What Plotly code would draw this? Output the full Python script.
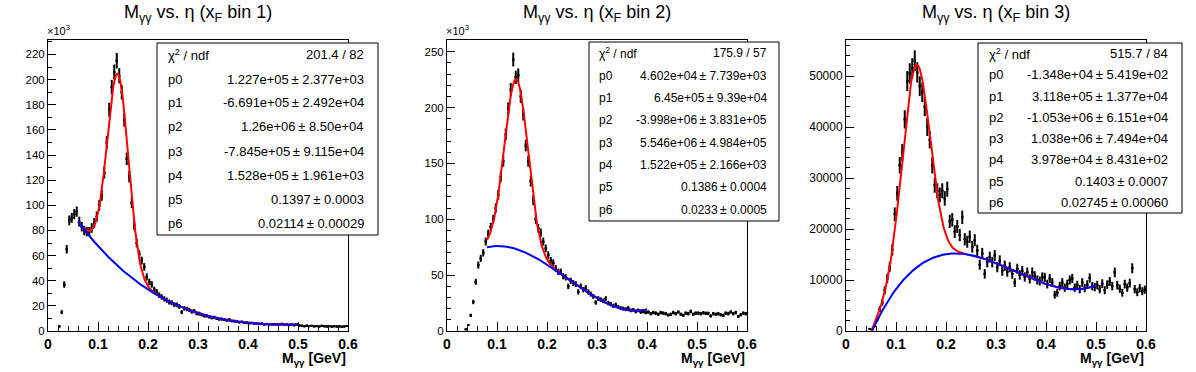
import numpy as np
import plotly.graph_objects as go

# ---------------- data ----------------
n_bins = 120
x_lo, x_hi = 0.0, 0.6

# bin contents (x_F bin 1 and 2 in units of 10^3 counts, bin 3 in counts)
counts_bin1 = [
    None, None, None, None, 3.7, 15, 37, 65, 88, 90,
    93, 95, 87, 83, 80, 79, 79, 82, 86, 91,
    100, 108, 126, 150, 176, 194, 206, 215, 203, 190,
    168, 137, 123, 102, 84, 70, 61, 56, 51, 43,
    39, 37, 33, 31, 28.5, 27, 25.5, 24.5, 23.0, 22.5,
    21.0, 20.8, 19.5, 15.0, 18.0, 17.5, 16.8, 15.5, 15.8, 14.0,
    13.8, 13.0, 12.2, 12.0, 11.2, 10.6, 10.8, 10.0, 9.4, 9.5,
    9.1, 8.6, 8.9, 8.0, 7.9, 7.6, 7.0, 7.3, 6.7, 6.5,
    6.3, 6.4, 5.9, 6.0, 5.6, 5.8, 5.3, 5.5, 5.2, 5.4,
    5.0, 5.3, 4.9, 5.6, 4.8, 5.1, 4.7, 5.0, 4.6, 5.2,
    4.4, 4.2, 3.8, 4.2, 3.9, 4.1, 3.7, 3.9, 3.6, 4.1,
    3.8, 3.6, 3.9, 3.5, 3.8, 3.6, 3.7, 3.4, 3.6, 4.0,
]
errors_bin1 = [
    0, 0, 0, 0, 0.8, 1.6, 2.6, 3.4, 3.9, 4.0,
    4.1, 4.1, 3.9, 3.8, 3.8, 3.7, 3.7, 3.8, 3.9, 4.0,
    4.2, 4.4, 4.7, 5.1, 5.6, 5.8, 6.0, 6.2, 6.0, 5.8,
    5.4, 4.9, 4.7, 4.2, 3.8, 3.5, 3.3, 3.1, 3.0, 2.8,
    2.6, 2.6, 2.4, 2.3, 2.2, 2.2, 2.1, 2.1, 2.0, 2.0,
    1.9, 1.9, 1.9, 1.6, 1.8, 1.8, 1.7, 1.7, 1.7, 1.6,
    1.6, 1.5, 1.5, 1.5, 1.4, 1.4, 1.4, 1.3, 1.3, 1.3,
    1.3, 1.2, 1.3, 1.2, 1.2, 1.2, 1.1, 1.1, 1.1, 1.1,
    1.1, 1.1, 1.0, 1.0, 1.0, 1.0, 1.0, 1.0, 1.0, 1.0,
    0.9, 1.0, 0.9, 1.0, 0.9, 0.9, 0.9, 0.9, 0.9, 0.9,
    0.9, 0.9, 0.8, 0.9, 0.8, 0.8, 0.8, 0.8, 0.8, 0.8,
    0.8, 0.8, 0.8, 0.8, 0.8, 0.8, 0.8, 0.8, 0.8, 0.8,
]

counts_bin2 = [
    None, None, None, None, None, None, None, 1.5, 5.4, 14,
    26, 44, 59, 65, 70, 80, 87, 93, 100, 110,
    122, 138, 152, 176, 199, 216, 243, 227, 229, 210,
    194, 166, 152, 134, 117, 100, 92, 88, 80, 74,
    68, 63, 61, 56, 53, 53, 49, 48, 40, 45,
    43, 42, 35, 40, 37, 38.5, 35, 33, 31, 25.5,
    29, 28, 27, 29, 25, 24, 22.5, 23.5, 21.5, 20.5,
    20, 19.5, 20.5, 18.5, 19, 17.5, 18.5, 17, 17.5, 16.5,
    17, 15.5, 16.5, 16, 15, 16.5, 16, 15.5, 14.3, 15,
    16.5, 15.5, 17, 15, 14, 16, 15.5, 17.5, 15, 16,
    16, 15.5, 16.3, 15.8, 15.8, 13.5, 15.5, 15, 15.5, 14.5,
    14, 16, 15.5, 17, 15.5, 16.5, 13, 14.5, 16, 15.5,
]
errors_bin2 = [
    0, 0, 0, 0, 0, 0, 0, 0.5, 0.9, 1.5,
    2.0, 2.7, 3.1, 3.2, 3.3, 3.6, 3.7, 3.9, 4.0, 4.2,
    4.4, 4.7, 4.9, 5.3, 5.6, 5.9, 6.2, 6.0, 6.1, 5.8,
    5.6, 5.2, 4.9, 4.6, 4.3, 4.0, 3.8, 3.8, 3.6, 3.4,
    3.3, 3.2, 3.1, 3.0, 2.9, 2.9, 2.8, 2.8, 2.5, 2.7,
    2.6, 2.6, 2.4, 2.5, 2.4, 2.5, 2.4, 2.3, 2.2, 2.0,
    2.2, 2.1, 2.1, 2.2, 2.0, 2.0, 1.9, 1.9, 1.9, 1.8,
    1.8, 1.8, 1.8, 1.7, 1.7, 1.7, 1.7, 1.6, 1.7, 1.6,
    1.6, 1.6, 1.6, 1.6, 1.5, 1.6, 1.6, 1.6, 1.5, 1.5,
    1.6, 1.6, 1.6, 1.5, 1.5, 1.6, 1.6, 1.7, 1.5, 1.6,
    1.6, 1.6, 1.6, 1.6, 1.6, 1.5, 1.6, 1.5, 1.6, 1.5,
    1.5, 1.6, 1.6, 1.6, 1.6, 1.6, 1.4, 1.5, 1.6, 1.6,
]

counts_bin3 = [
    None, None, None, None, None, None, None, None, None, 400,
    300, 1000, 2300, 4300, 5600, 8000, 10300, 12600, 15900, 22900,
    27000, 32500, 35000, 41500, 49000, 50500, 51500, 53000, 50700, 48000,
    46800, 44000, 40000, 37500, 32500, 28600, 27500, 26700, 27500, 26000,
    27800, 21500, 21800, 19500, 20500, 18800, 22300, 18000, 17500, 18500,
    16500, 17800, 15800, 13000, 15200, 11200, 13500, 14500, 13500, 14800,
    12500, 13800, 11800, 12800, 11600, 12500, 11200, 9500, 12200, 11000,
    11800, 10600, 11500, 10200, 11500, 10800, 10000, 9800, 10600, 10500,
    9200, 10300, 9500, 7100, 7500, 8800, 9500, 8500, 9200, 10000,
    10300, 8500, 9000, 8200, 9500, 8400, 9100, 10400, 8800, 8600,
    9000, 8200, 9300, 8000, 9100, 9700, 8800, 11500, 9000, 8300,
    7500, 9200, 8500, 9400, 12300, 8200, 7600, 8400, 7800, 8100,
]
errors_bin3 = [
    0, 0, 0, 0, 0, 0, 0, 0, 0, 180,
    150, 280, 420, 580, 660, 790, 900, 1000, 1100, 1330,
    1450, 1600, 1660, 1800, 1960, 2000, 2000, 2040, 2000, 1940,
    1900, 1860, 1770, 1710, 1600, 1500, 1470, 1450, 1470, 1430,
    1480, 1300, 1310, 1240, 1270, 1210, 1320, 1190, 1170, 1200,
    1140, 1180, 1110, 1000, 1090, 940, 1030, 1070, 1030, 1080,
    990, 1040, 960, 1000, 950, 990, 940, 860, 980, 930,
    960, 910, 950, 890, 950, 920, 890, 880, 910, 910,
    850, 900, 860, 750, 770, 830, 860, 820, 850, 890,
    900, 820, 840, 800, 860, 810, 840, 900, 830, 820,
    840, 800, 850, 790, 840, 870, 830, 950, 840, 810,
    770, 850, 820, 860, 980, 800, 770, 810, 780, 800,
]

# fit results: pol3 background (p0..p3) + gaussian (p4 amplitude, p5 mean, p6 sigma)
fit_params_bin1 = [1.227e+05, -6.691e+05, 1.26e+06, -7.845e+05, 1.528e+05, 0.1397, 0.02114]
fit_params_bin2 = [4.602e+04, 6.45e+05, -3.998e+06, 5.546e+06, 1.522e+05, 0.1386, 0.0233]
fit_params_bin3 = [-1.348e+04, 3.118e+05, -1.053e+06, 1.038e+06, 3.978e+04, 0.1403, 0.02745]
total_fit_range = [(0.07, 0.5), (0.08, 0.4), (0.05, 0.5)]
background_fit_range = [(0.06, 0.5), (0.08, 0.4), (0.053, 0.5)]
y_units = [1e3, 1e3, 1.0]

stats_bin1 = [("χ<sup>2</sup> / ndf", "201.4 / 82"),
              ("p0", "1.227e+05\u2009± 2.377e+03"),
              ("p1", "-6.691e+05\u2009± 2.492e+04"),
              ("p2", "1.26e+06\u2009± 8.50e+04"),
              ("p3", "-7.845e+05\u2009± 9.115e+04"),
              ("p4", "1.528e+05\u2009± 1.961e+03"),
              ("p5", "0.1397\u2009± 0.0003"),
              ("p6", "0.02114\u2009± 0.00029")]
stats_bin2 = [("χ<sup>2</sup> / ndf", "175.9 / 57"),
              ("p0", "4.602e+04\u2009± 7.739e+03"),
              ("p1", "6.45e+05\u2009± 9.39e+04"),
              ("p2", "-3.998e+06\u2009± 3.831e+05"),
              ("p3", "5.546e+06\u2009± 4.984e+05"),
              ("p4", "1.522e+05\u2009± 2.166e+03"),
              ("p5", "0.1386\u2009± 0.0004"),
              ("p6", "0.0233\u2009± 0.0005")]
stats_bin3 = [("χ<sup>2</sup> / ndf", "515.7 / 84"),
              ("p0", "-1.348e+04\u2009± 5.419e+02"),
              ("p1", "3.118e+05\u2009± 1.377e+04"),
              ("p2", "-1.053e+06\u2009± 6.151e+04"),
              ("p3", "1.038e+06\u2009± 7.494e+04"),
              ("p4", "3.978e+04\u2009± 8.431e+02"),
              ("p5", "0.1403\u2009± 0.0007"),
              ("p6", "0.02745\u2009± 0.00060")]

titles = ["M<sub>γγ</sub> vs. η (x<sub>F</sub> bin 1)",
          "M<sub>γγ</sub> vs. η (x<sub>F</sub> bin 2)",
          "M<sub>γγ</sub> vs. η (x<sub>F</sub> bin 3)"]

# ---------------- layout geometry (pixels) ----------------
W, H = 1196, 372
FONT = "Liberation Sans, Arial, sans-serif"
frames = [(48, 348), (447, 747), (846, 1146)]
frame_top, frame_bot = 40, 331
y_max = [231.5, 260.5, 57060]
y_dtick = [20, 50, 10000]
y_minor = [10, 10, 2000]
y_tick_size = [11.5, 11.5, 12]
stat_boxes = [(157, 43, 378, 235, 13), (589, 42, 779, 221, 12), (978, 43, 1182, 213, 13)]
stat_inset = [(9, 12), (8, 10), (9, 12)]


def fx(px):
    return px / W


def fy(py):
    return 1 - py / H


edges = np.linspace(x_lo, x_hi, n_bins + 1)
centers = 0.5 * (edges[:-1] + edges[1:])
half_width = 0.5 * (edges[1] - edges[0])


def fit_total(x, p):
    return p[0] + p[1] * x + p[2] * x**2 + p[3] * x**3 + p[4] * np.exp(-0.5 * ((x - p[5]) / p[6])**2)


def fit_background(x, p):
    return p[0] + p[1] * x + p[2] * x**2 + p[3] * x**3


fig = go.Figure()
all_counts = [counts_bin1, counts_bin2, counts_bin3]
all_errors = [errors_bin1, errors_bin2, errors_bin3]
all_params = [fit_params_bin1, fit_params_bin2, fit_params_bin3]
all_stats = [stats_bin1, stats_bin2, stats_bin3]

annotations = []
shapes = []
layout_axes = {}

for k in range(3):
    xa = "x" if k == 0 else f"x{k+1}"
    ya = "y" if k == 0 else f"y{k+1}"
    # data histogram with error bars
    fig.add_trace(go.Scatter(
        x=centers, y=all_counts[k], xaxis=xa, yaxis=ya, mode="markers",
        marker=dict(size=2, color="black", symbol="square"),
        error_y=dict(type="data", array=all_errors[k], visible=True, color="black", thickness=2, width=0),
        error_x=dict(type="constant", value=half_width, visible=True, color="black", thickness=2, width=0),
        showlegend=False, hoverinfo="skip"))
    p = all_params[k]
    xr = np.linspace(total_fit_range[k][0], total_fit_range[k][1], 300)
    fig.add_trace(go.Scatter(x=xr, y=fit_total(xr, p) / y_units[k], xaxis=xa, yaxis=ya, mode="lines",
                             line=dict(color="#ff0000", width=2), showlegend=False, hoverinfo="skip"))
    xb = np.linspace(background_fit_range[k][0], background_fit_range[k][1], 300)
    fig.add_trace(go.Scatter(x=xb, y=fit_background(xb, p) / y_units[k], xaxis=xa, yaxis=ya, mode="lines",
                             line=dict(color="#0000ff", width=2), showlegend=False, hoverinfo="skip"))

    x0, x1 = frames[k]
    axis_common = dict(showline=True, linecolor="black", linewidth=1, mirror=True,
                       ticks="inside", tickcolor="black", tickwidth=1, automargin=False,
                       showgrid=False, zeroline=False)
    layout_axes["xaxis" if k == 0 else f"xaxis{k+1}"] = dict(
        domain=[fx(x0), fx(x1)], range=[x_lo, x_hi], anchor=ya,
        tick0=0, dtick=0.1, ticklen=9,
        minor=dict(ticks="inside", ticklen=5, dtick=0.02, tick0=0, tickcolor="black", tickwidth=1),
        tickfont=dict(family=FONT, size=14, color="black", weight="bold"),
        **axis_common)
    yfmt = {} if k < 2 else dict(tickformat="d")
    layout_axes["yaxis" if k == 0 else f"yaxis{k+1}"] = dict(
        domain=[fy(frame_bot), fy(frame_top)], range=[0, y_max[k]], anchor=xa,
        tick0=0, dtick=y_dtick[k], ticklen=8,
        minor=dict(ticks="inside", ticklen=4, dtick=y_minor[k], tick0=0, tickcolor="black", tickwidth=1),
        tickfont=dict(family=FONT, size=y_tick_size[k], color="black"),
        **yfmt, **axis_common)

    # title
    annotations.append(dict(x=fx((x0 + x1) / 2), y=fy(14), xref="paper", yref="paper",
                            text=titles[k], showarrow=False, xanchor="center", yanchor="middle",
                            font=dict(family=FONT, size=18, color="black")))
    # x axis title
    annotations.append(dict(x=fx(x1), y=fy(359), xref="paper", yref="paper",
                            text="<b>M<sub>γγ</sub> [GeV]</b>", showarrow=False, xanchor="right", yanchor="middle",
                            font=dict(family=FONT, size=14, color="black")))
    if k < 2:
        annotations.append(dict(x=fx(x0 - 3), y=fy(39), xref="paper", yref="paper",
                                text="×10<sup>3</sup>", showarrow=False, xanchor="left", yanchor="bottom",
                                font=dict(family=FONT, size=11, color="black")))
    # stats box
    bx0, by0, bx1, by1, fsize = stat_boxes[k]
    shapes.append(dict(type="rect", xref="paper", yref="paper", x0=fx(bx0), x1=fx(bx1), y0=fy(by1), y1=fy(by0),
                       line=dict(color="black", width=1), fillcolor="white", layer="above"))
    row_h = (by1 - by0) / len(all_stats[k])
    lpad, rpad = stat_inset[k]
    for r, (lab, val) in enumerate(all_stats[k]):
        yc = by0 + (r + 0.5) * row_h
        annotations.append(dict(x=fx(bx0 + lpad), y=fy(yc), xref="paper", yref="paper", text=lab,
                                showarrow=False, xanchor="left", yanchor="middle",
                                font=dict(family=FONT, size=fsize, color="black")))
        annotations.append(dict(x=fx(bx1 - rpad), y=fy(yc), xref="paper", yref="paper", text=val,
                                showarrow=False, xanchor="right", yanchor="middle",
                                font=dict(family=FONT, size=fsize, color="black")))

fig.update_layout(width=W, height=H, autosize=False, margin=dict(l=0, r=0, t=0, b=0, autoexpand=False),
                  paper_bgcolor="white", plot_bgcolor="white", showlegend=False, hovermode=False,
                  annotations=annotations, shapes=shapes, **layout_axes)

fig.write_html("out.html", config={"displayModeBar": False, "staticPlot": True},
               post_script="document.body.style.margin='0';document.body.style.overflow='hidden';")
